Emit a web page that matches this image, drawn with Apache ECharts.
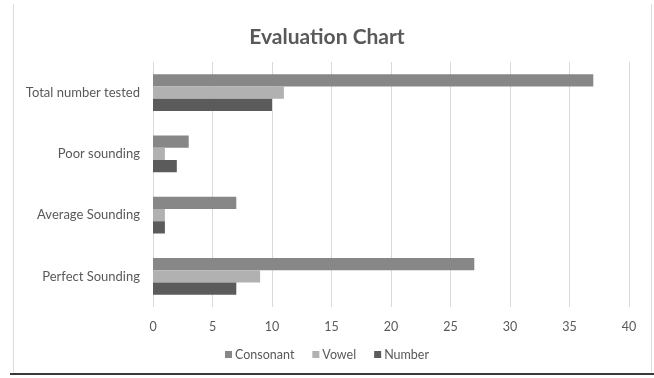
<!DOCTYPE html>
<html>
<head>
<meta charset="utf-8">
<script src="https://cdn.jsdelivr.net/npm/echarts@6/dist/echarts.min.js"></script>
<style>
  html, body { margin: 0; padding: 0; background: #fff; }
  #chart { width: 654px; height: 378px; }
</style>
</head>
<body>
<div id="chart"></div>
<script>
// Categories listed bottom-to-top, as the category axis draws them
const categories = ['Perfect Sounding', 'Average Sounding', 'Poor sounding', 'Total number tested'];
const consonant = [27, 7, 3, 37];
const vowel = [9, 1, 1, 11];
const number = [7, 1, 2, 10];
const xTicks = { min: 0, max: 40, interval: 5 };

const FONT = 'Lato, "Open Sans", sans-serif';
const TEXT = '#595959';

const chart = echarts.init(document.getElementById('chart'), null, { renderer: 'canvas' });

chart.setOption({
  animation: false,
  backgroundColor: '#ffffff',
  title: {
    text: 'Evaluation Chart',
    left: 'center',
    top: 22,
    textStyle: { fontFamily: FONT, fontSize: 21, fontWeight: 'bold', color: TEXT }
  },
  legend: {
    data: ['Consonant', 'Vowel', 'Number'],
    bottom: 12,
    left: 'center',
    itemWidth: 7,
    itemHeight: 7,
    itemGap: 18,
    icon: 'rect',
    textStyle: { fontFamily: FONT, fontSize: 12.5, color: TEXT, padding: [0, 0, 0, -2] }
  },
  grid: { left: 153, right: 25, top: 62, bottom: 71, containLabel: false },
  xAxis: {
    type: 'value',
    min: xTicks.min,
    max: xTicks.max,
    interval: xTicks.interval,
    axisLine: { show: false },
    axisTick: { show: false },
    axisLabel: { fontFamily: FONT, fontSize: 12.5, color: TEXT, margin: 13 },
    splitLine: { lineStyle: { color: '#d9d9d9', width: 1 } }
  },
  yAxis: {
    type: 'category',
    data: categories,
    axisLine: { show: false },
    axisTick: { show: false },
    axisLabel: { fontFamily: FONT, fontSize: 13, color: TEXT, margin: 13 }
  },
  series: [
    { name: 'Consonant', type: 'bar', data: consonant, itemStyle: { color: '#878787' }, barGap: '0%', barCategoryGap: '40%' },
    { name: 'Vowel', type: 'bar', data: vowel, itemStyle: { color: '#b1b1b1' }, barGap: '0%', barCategoryGap: '40%' },
    { name: 'Number', type: 'bar', data: number, itemStyle: { color: '#5b5b5b' }, barGap: '0%', barCategoryGap: '40%' }
  ],
  graphic: [
    { type: 'line', shape: { x1: 13.5, y1: 4, x2: 13.5, y2: 372 }, style: { stroke: '#dcdcdc', lineWidth: 1 } },
    { type: 'line', shape: { x1: 651.5, y1: 4, x2: 651.5, y2: 372 }, style: { stroke: '#dcdcdc', lineWidth: 1 } },
    { type: 'line', shape: { x1: 10, y1: 374, x2: 654, y2: 374 }, style: { stroke: '#3a3a3a', lineWidth: 2 } }
  ]
});
</script>
</body>
</html>
